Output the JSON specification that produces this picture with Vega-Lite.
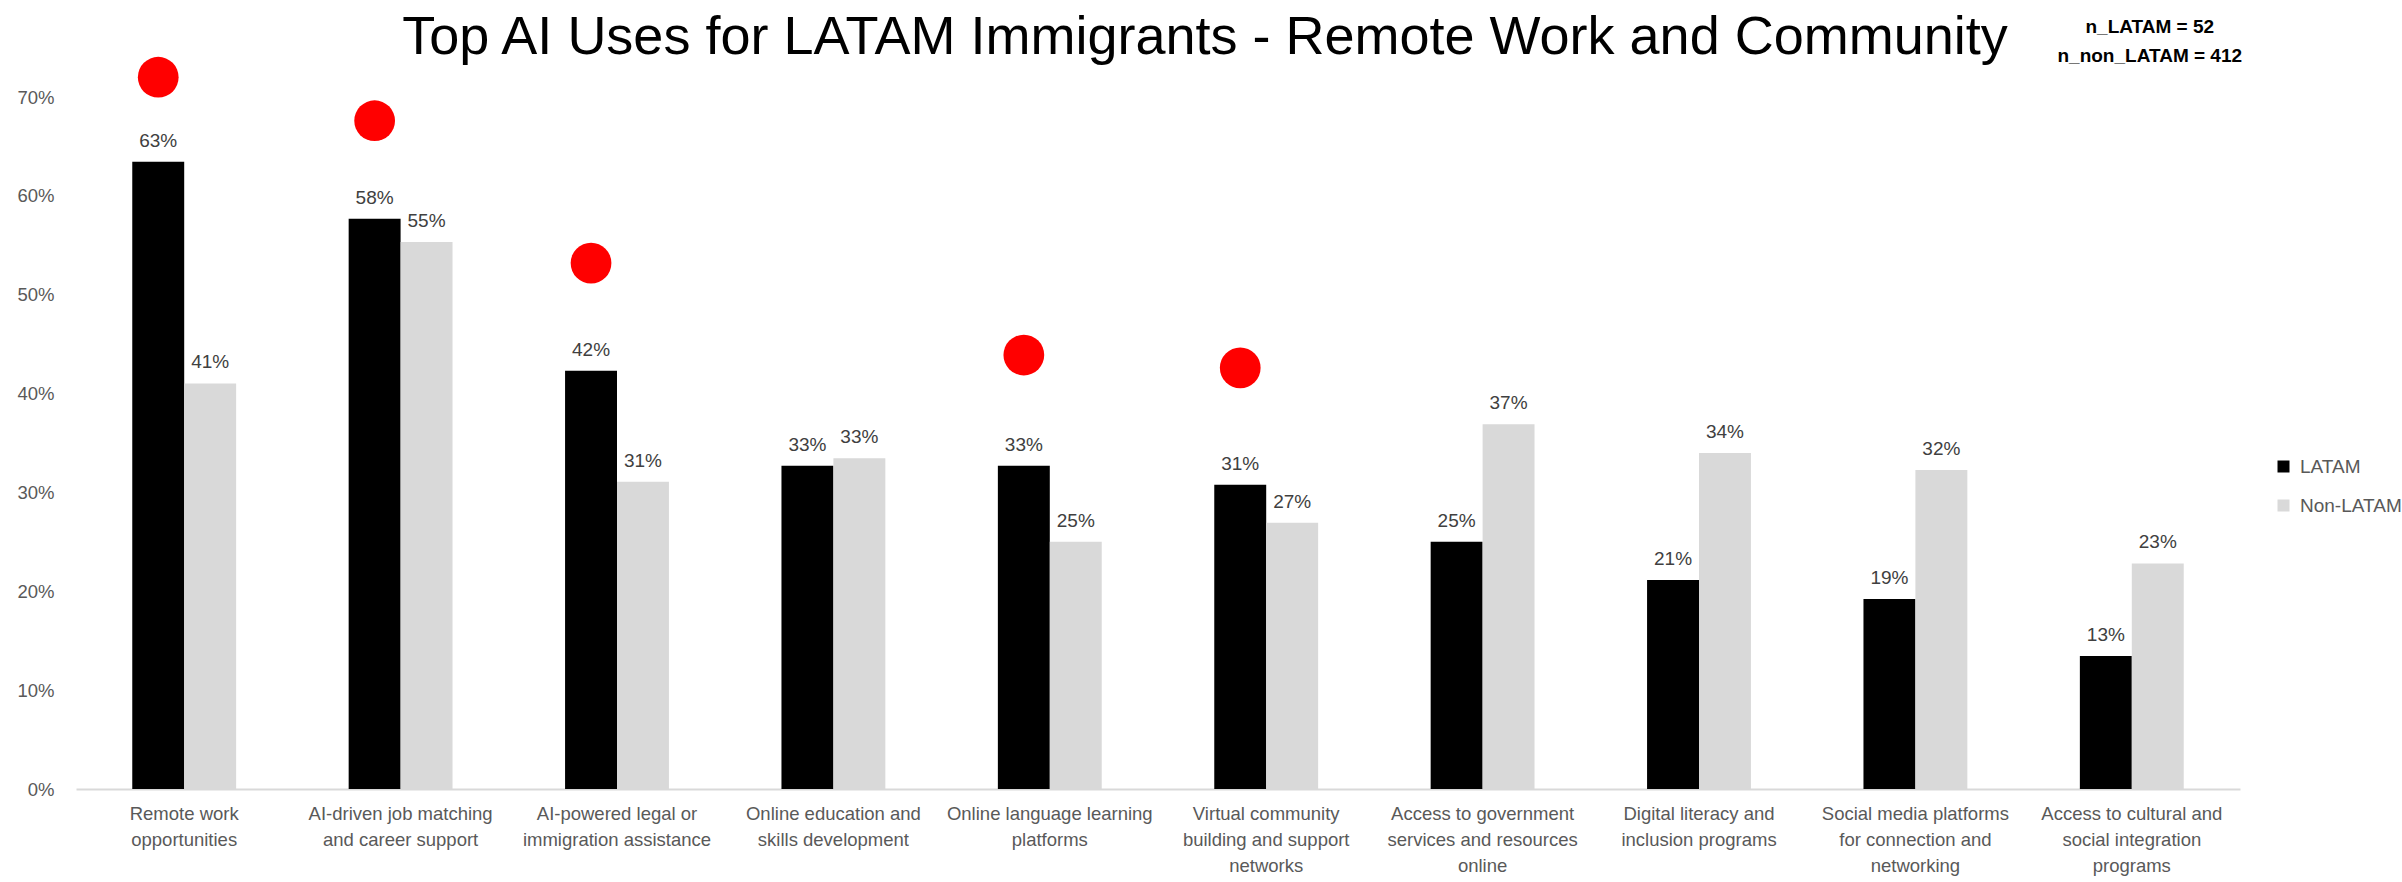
{
  "$schema": "https://vega.github.io/schema/vega-lite/v6.json",
  "autosize": "none",
  "padding": {"left": 76, "top": 97, "right": 162, "bottom": 93},
  "width": 2164,
  "height": 692,
  "background": "white",
  "title": {
    "text": "Top AI Uses for LATAM Immigrants - Remote Work and Community",
    "font": "Liberation Sans",
    "fontSize": 54,
    "fontWeight": "normal",
    "color": "#000000",
    "anchor": "middle",
    "frame": "group",
    "baseline": "alphabetic",
    "dx": 47,
    "offset": -90
  },
  "config": {
    "view": {"stroke": null},
    "font": "Liberation Sans",
    "legend": {
      "orient": "none",
      "legendX": 2198,
      "legendY": 360,
      "title": null,
      "symbolType": "square",
      "symbolSize": 144,
      "symbolStrokeWidth": 0,
      "labelFontSize": 19,
      "labelColor": "#595959",
      "labelOffset": 7,
      "rowPadding": 19
    }
  },
  "data": {
    "values": [
      {"use": "Remote work|opportunities", "group": "LATAM", "share": 0.6346},
      {"use": "Remote work|opportunities", "group": "Non-LATAM", "share": 0.4102},
      {"use": "AI-driven job matching|and career support", "group": "LATAM", "share": 0.5769},
      {"use": "AI-driven job matching|and career support", "group": "Non-LATAM", "share": 0.5534},
      {"use": "AI-powered legal or|immigration assistance", "group": "LATAM", "share": 0.4231},
      {"use": "AI-powered legal or|immigration assistance", "group": "Non-LATAM", "share": 0.3107},
      {"use": "Online education and|skills development", "group": "LATAM", "share": 0.3269},
      {"use": "Online education and|skills development", "group": "Non-LATAM", "share": 0.3345},
      {"use": "Online language learning|platforms", "group": "LATAM", "share": 0.3269},
      {"use": "Online language learning|platforms", "group": "Non-LATAM", "share": 0.25},
      {"use": "Virtual community|building and support|networks", "group": "LATAM", "share": 0.3077},
      {"use": "Virtual community|building and support|networks", "group": "Non-LATAM", "share": 0.2694},
      {"use": "Access to government|services and resources|online", "group": "LATAM", "share": 0.25},
      {"use": "Access to government|services and resources|online", "group": "Non-LATAM", "share": 0.3689},
      {"use": "Digital literacy and|inclusion programs", "group": "LATAM", "share": 0.2115},
      {"use": "Digital literacy and|inclusion programs", "group": "Non-LATAM", "share": 0.3398},
      {"use": "Social media platforms|for connection and|networking", "group": "LATAM", "share": 0.1923},
      {"use": "Social media platforms|for connection and|networking", "group": "Non-LATAM", "share": 0.3228},
      {"use": "Access to cultural and|social integration|programs", "group": "LATAM", "share": 0.1346},
      {"use": "Access to cultural and|social integration|programs", "group": "Non-LATAM", "share": 0.2282}
    ]
  },
  "encoding": {
    "x": {
      "field": "use",
      "type": "nominal",
      "sort": null,
      "scale": {"paddingInner": 0.52, "paddingOuter": 0.26},
      "axis": {
        "title": null,
        "labelAngle": 0,
        "labelExpr": "split(datum.label, '|')",
        "labelBaseline": "top",
        "labelPadding": 15,
        "labelLineHeight": 26,
        "labelFontSize": 18.5,
        "labelColor": "#595959",
        "labelLimit": 0,
        "ticks": false,
        "domainColor": "#d9d9d9",
        "domainWidth": 2
      }
    },
    "xOffset": {"field": "group", "type": "nominal", "scale": {"domain": ["LATAM", "Non-LATAM"], "paddingInner": 0, "paddingOuter": 0}},
    "y": {
      "field": "share",
      "type": "quantitative",
      "scale": {"domain": [0, 0.7], "nice": false},
      "axis": {
        "title": null,
        "format": ".0%",
        "values": [0, 0.1, 0.2, 0.3, 0.4, 0.5, 0.6, 0.7],
        "domain": false,
        "ticks": false,
        "grid": false,
        "labelPadding": 22,
        "labelFontSize": 18.5,
        "labelColor": "#595959"
      }
    }
  },
  "layer": [
    {
      "mark": {"type": "bar"},
      "encoding": {
        "color": {
          "field": "group",
          "type": "nominal",
          "scale": {"domain": ["LATAM", "Non-LATAM"], "range": ["#000000", "#d9d9d9"]}
        }
      }
    },
    {
      "mark": {"type": "text", "baseline": "alphabetic", "dy": -15, "fontSize": 19, "color": "#404040"},
      "encoding": {
        "text": {"field": "share", "type": "quantitative", "format": ".0%"}
      }
    },
    {
      "data": {
        "values": [
          {"use": "Remote work|opportunities", "group": "LATAM", "marker": 0.72},
          {"use": "AI-driven job matching|and career support", "group": "LATAM", "marker": 0.676},
          {"use": "AI-powered legal or|immigration assistance", "group": "LATAM", "marker": 0.532},
          {"use": "Online language learning|platforms", "group": "LATAM", "marker": 0.439},
          {"use": "Virtual community|building and support|networks", "group": "LATAM", "marker": 0.426}
        ]
      },
      "mark": {"type": "point", "filled": true, "size": 1660, "color": "#ff0000", "opacity": 1},
      "encoding": {
        "y": {"field": "marker", "type": "quantitative"}
      }
    },
    {
      "data": {
        "values": [
          {"use": "Access to cultural and|social integration|programs", "group": "Non-LATAM", "note_y": 0.7647}
        ]
      },
      "mark": {
        "type": "text",
        "text": ["n_LATAM = 52", "n_non_LATAM = 412"],
        "fontWeight": "bold",
        "fontSize": 19,
        "color": "#000000",
        "baseline": "alphabetic",
        "lineHeight": 29,
        "dx": -8
      },
      "encoding": {
        "y": {"field": "note_y", "type": "quantitative"}
      }
    }
  ]
}
